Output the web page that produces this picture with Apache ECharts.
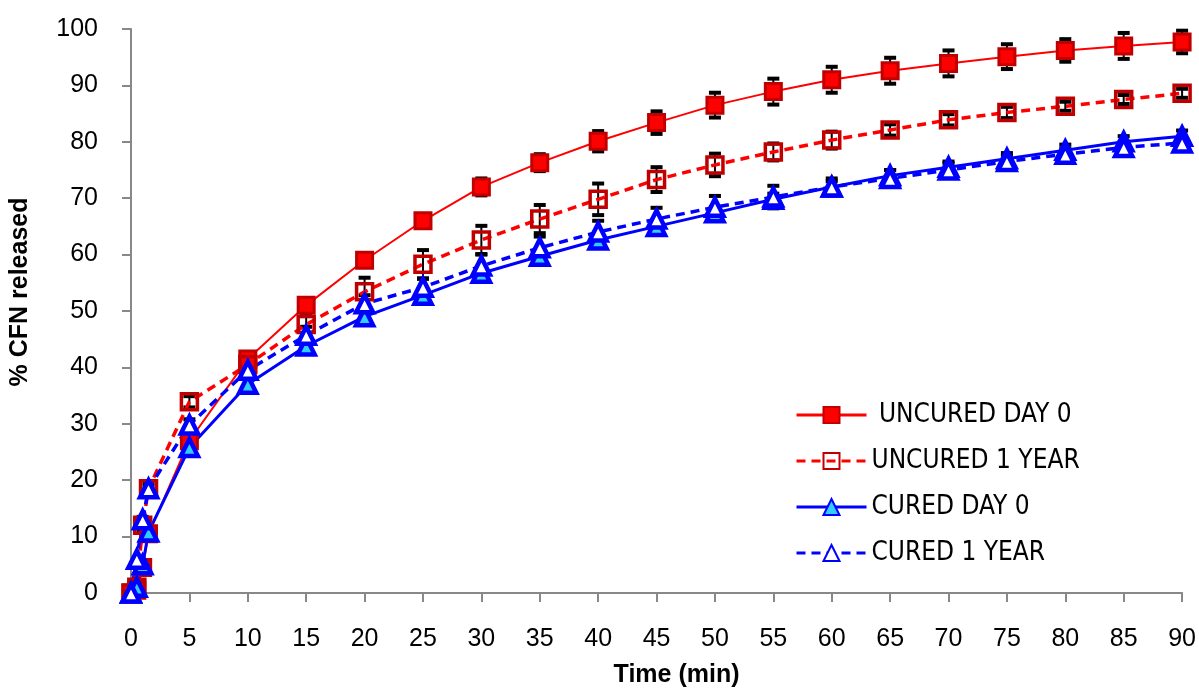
<!DOCTYPE html>
<html>
<head>
<meta charset="utf-8">
<script src="https://cdn.jsdelivr.net/npm/echarts@6/dist/echarts.min.js"></script>
<style>
  html, body { margin: 0; padding: 0; background: #fff; }
  #main { width: 1199px; height: 695px; }
</style>
</head>
<body>
<div id="main"></div>
<script>
// sampling times (min)
var times = [0, 0.5, 1, 1.5, 5, 10, 15, 20, 25, 30, 35, 40, 45, 50, 55, 60, 65, 70, 75, 80, 85, 90];

// % CFN released
var uncuredDay0 = [0, 0.5, 4.5, 10.5, 27, 41.5, 51, 59, 66, 72, 76.3, 80.1, 83.4, 86.5, 88.9, 91, 92.6, 93.9, 95.1, 96.2, 97, 97.7];
var uncured1Year = [0, 1, 12, 18.5, 33.9, 40.5, 47.6, 53.4, 58.3, 62.6, 66.3, 69.8, 73.3, 75.9, 78.2, 80.3, 82.1, 83.9, 85.2, 86.3, 87.5, 88.6];
var curedDay0 = [0, 1, 5, 10.8, 25.8, 37, 43.8, 49, 52.8, 56.7, 59.7, 62.6, 65, 67.4, 69.8, 72, 74, 75.5, 77, 78.5, 80, 81];
var cured1Year = [0, 6, 13, 18.5, 29.8, 39.5, 45.7, 51.3, 54.2, 58, 61.2, 64, 66.3, 68.4, 70.2, 72, 73.5, 75, 76.5, 77.8, 79, 79.8];

// +/- error (sd)
var uncuredDay0Err = [0, 0, 0.5, 0.5, 1, 1, 1, 1, 1, 1.5, 1.5, 1.8, 2, 2.2, 2.3, 2.3, 2.3, 2.3, 2.2, 2, 2.3, 2];
var uncured1YearErr = [0, 0, 1, 1, 1, 1, 1.5, 2.5, 2.5, 2.5, 2.5, 2.8, 2.2, 2, 1.5, 1.5, 1, 1, 1, 0.8, 0.8, 0.8];
var curedDay0Err = [0, 0, 0.5, 0.5, 1, 1, 1.2, 1.2, 1, 1, 1, 1, 1, 1, 1, 1, 1, 1, 1, 1, 1, 1];
var cured1YearErr = [0, 0, 0.5, 0.5, 1, 1, 1.5, 1.5, 1.5, 2, 2, 2, 2, 2, 2, 1.5, 1.5, 1.2, 1, 1, 1, 1];

var yTicks = [0, 10, 20, 30, 40, 50, 60, 70, 80, 90, 100];

function pairs(vals) {
  return times.map(function (t, i) { return [t, vals[i]]; });
}
function errPairs(vals, errs) {
  return times.map(function (t, i) { return [t, vals[i], errs[i]]; });
}

function renderErr(params, api) {
  var x = api.value(0), y = api.value(1), e = api.value(2);
  if (!e) return null;
  var top = api.coord([x, y + e]);
  var bot = api.coord([x, y - e]);
  var w = 6;
  var st = { stroke: '#000', lineWidth: 2 };
  var cap = { stroke: '#000', lineWidth: 4 };
  return {
    type: 'group',
    children: [
      { type: 'line', shape: { x1: top[0], y1: top[1], x2: bot[0], y2: bot[1] }, style: st },
      { type: 'line', shape: { x1: top[0] - w, y1: top[1], x2: top[0] + w, y2: top[1] }, style: cap },
      { type: 'line', shape: { x1: bot[0] - w, y1: bot[1], x2: bot[0] + w, y2: bot[1] }, style: cap }
    ]
  };
}

var labelFont = "'Liberation Sans', Arial, sans-serif";
var narrowFont = "'Liberation Sans Narrow', 'DejaVu Sans Condensed', sans-serif";

var myChart = echarts.init(document.getElementById('main'));

myChart.setOption({
  animation: false,
  grid: { left: 130, right: 16, top: 29, bottom: 102 },
  legend: {
    orient: 'vertical',
    left: 790,
    top: 397,
    itemWidth: 70,
    itemHeight: 20,
    itemGap: 20,
    data: ['UNCURED DAY 0', 'UNCURED 1 YEAR', 'CURED DAY 0', 'CURED 1 YEAR'],
    lineStyle: { width: 3 },
    textStyle: { fontFamily: narrowFont, fontSize: 26, color: '#000' },
    formatter: function (name) { return name === 'UNCURED DAY 0' ? ' ' + name : name; }
  },
  xAxis: {
    type: 'value',
    min: 0,
    max: 90,
    interval: 5,
    name: 'Time (min)',
    nameLocation: 'middle',
    nameGap: 70,
    nameTextStyle: { fontFamily: labelFont, fontWeight: 'bold', fontSize: 25, color: '#000', padding: [0, 0, 0, 40] },
    splitLine: { show: false },
    axisLine: { lineStyle: { color: '#888', width: 2 } },
    axisTick: { length: 9, lineStyle: { color: '#888', width: 2 } },
    axisLabel: { fontFamily: labelFont, fontSize: 25, color: '#000', margin: 34 }
  },
  yAxis: {
    type: 'value',
    min: yTicks[0],
    max: yTicks[yTicks.length - 1],
    interval: 10,
    name: '% CFN released',
    nameLocation: 'middle',
    nameGap: 98,
    nameTextStyle: { fontFamily: labelFont, fontWeight: 'bold', fontSize: 25, color: '#000', padding: [0, 0, 0, 38] },
    splitLine: { show: false },
    axisLine: { show: true, lineStyle: { color: '#888', width: 2 } },
    axisTick: { show: true, length: 9, lineStyle: { color: '#888', width: 2 } },
    axisLabel: { fontFamily: labelFont, fontSize: 25, color: '#000', margin: 33 }
  },
  series: [
    { type: 'custom', name: 'err1', z: 1, renderItem: renderErr, data: errPairs(uncuredDay0, uncuredDay0Err), encode: { x: 0, y: 1 } },
    { type: 'custom', name: 'err2', z: 1, renderItem: renderErr, data: errPairs(uncured1Year, uncured1YearErr), encode: { x: 0, y: 1 } },
    { type: 'custom', name: 'err3', z: 1, renderItem: renderErr, data: errPairs(curedDay0, curedDay0Err), encode: { x: 0, y: 1 } },
    { type: 'custom', name: 'err4', z: 1, renderItem: renderErr, data: errPairs(cured1Year, cured1YearErr), encode: { x: 0, y: 1 } },
    {
      name: 'UNCURED DAY 0',
      type: 'line',
      data: pairs(uncuredDay0),
      symbol: 'rect',
      symbolSize: 16,
      lineStyle: { color: '#FF0000', width: 2 },
      itemStyle: { color: '#FF0000', borderColor: '#C00000', borderWidth: 3 }
    },
    {
      name: 'UNCURED 1 YEAR',
      type: 'line',
      data: pairs(uncured1Year),
      symbol: 'rect',
      symbolSize: 16,
      lineStyle: { color: '#FF0000', width: 3.5, type: [9, 6] },
      itemStyle: { color: 'rgba(255,255,255,0)', borderColor: '#C00000', borderWidth: 3.5 }
    },
    {
      name: 'CURED DAY 0',
      type: 'line',
      data: pairs(curedDay0),
      symbol: 'triangle',
      symbolSize: 17,
      lineStyle: { color: '#0000FF', width: 3 },
      itemStyle: { color: '#33CCFF', borderColor: '#0000FF', borderWidth: 4.5 }
    },
    {
      name: 'CURED 1 YEAR',
      type: 'line',
      data: pairs(cured1Year),
      symbol: 'triangle',
      symbolSize: 17,
      lineStyle: { color: '#0000FF', width: 3.5, type: [9, 6] },
      itemStyle: { color: '#FFFFFF', borderColor: '#0000FF', borderWidth: 4.5 }
    }
  ]
});
</script>
</body>
</html>
